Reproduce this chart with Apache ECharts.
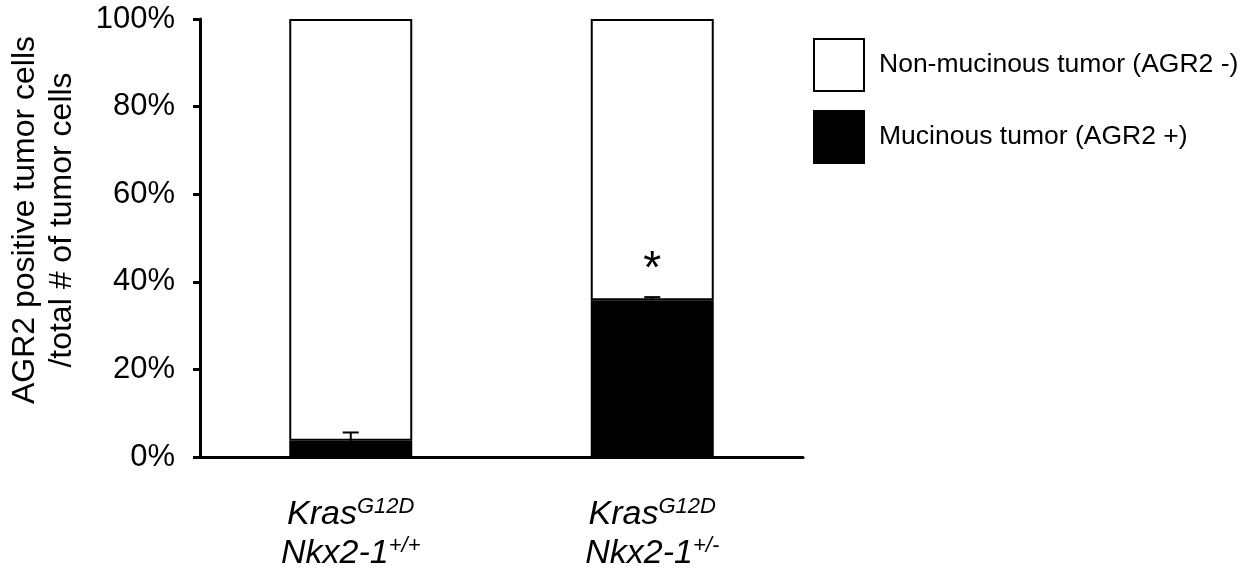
<!DOCTYPE html>
<html>
<head>
<meta charset="utf-8">
<script src="https://cdn.jsdelivr.net/npm/echarts@6/dist/echarts.min.js"></script>
<style>
  html, body { margin: 0; padding: 0; background: #fff; }
  #chart { width: 1258px; height: 574px; }
</style>
</head>
<body>
<div id="chart"></div>
<script>
// genotypes on the x axis
const categories = ['Kras G12D Nkx2-1 +/+', 'Kras G12D Nkx2-1 +/-'];
const krasSup = ['G12D', 'G12D'];
const nkxSup = ['+/+', '+/-'];

// % of tumor cells
const mucinous = [3.7, 35.8];
const mucinousErr = [1.9, 0.7];
const nonMucinous = mucinous.map(v => 100 - v);
const signif = ['', '*'];

const yTicks = [0, 20, 40, 60, 80, 100];

const FONT = 'Liberation Sans, Arial, Helvetica, sans-serif';

const chart = echarts.init(document.getElementById('chart'));

/**
 * 误差线 + 显著性星号
 */
const renderErr = (params, api) => {
    const i = api.value(0);
    const base = api.coord([i, api.value(1)]);
    const top = api.coord([i, api.value(1) + api.value(2)]);
    const cap = 8;
    const children = [
        { type: 'line', shape: { x1: base[0], y1: base[1], x2: top[0], y2: top[1] },
          style: { stroke: '#000', lineWidth: 2 } },
        { type: 'line', shape: { x1: top[0] - cap, y1: top[1], x2: top[0] + cap, y2: top[1] },
          style: { stroke: '#000', lineWidth: 2 } }
    ];
    if (signif[i]) {
        children.push({ type: 'text', x: top[0], y: top[1] - 4,
            style: { text: signif[i], fill: '#000', font: '46px ' + FONT, align: 'center', verticalAlign: 'bottom' } });
    }
    return { type: 'group', children };
};

const option = {
    animation: false,
    backgroundColor: '#fff',
    textStyle: { fontFamily: FONT, color: '#000' },
    grid: { left: 200, right: 455, top: 19, bottom: 117 },
    legend: {
        orient: 'vertical',
        left: 813,
        top: 38,
        padding: 0,
        itemWidth: 50,
        itemHeight: 52,
        itemGap: 18,
        icon: 'rect',
        data: ['Non-mucinous tumor (AGR2 -)', 'Mucinous tumor (AGR2 +)'],
        textStyle: { fontFamily: FONT, fontSize: 26.5, color: '#000', padding: [0, 0, 0, 10] }
    },
    xAxis: {
        type: 'category',
        data: categories,
        axisLine: { lineStyle: { color: '#000', width: 3 } },
        axisTick: { length: 7, lineStyle: { color: '#000', width: 3 } },
        axisLabel: {
            margin: 38,
            formatter: (v, idx) => '{it|Kras}{sup|' + krasSup[idx] + '}\n{it|Nkx2-1}{sup|' + nkxSup[idx] + '}',
            rich: {
                it: { fontFamily: FONT, fontStyle: 'italic', fontSize: 34, lineHeight: 39, color: '#000' },
                sup: { fontFamily: FONT, fontStyle: 'italic', fontSize: 22, lineHeight: 39, color: '#000', padding: [0, 0, 15, 0] }
            }
        }
    },
    yAxis: {
        type: 'value',
        min: yTicks[0],
        max: yTicks[yTicks.length - 1],
        interval: 20,
        name: 'AGR2 positive tumor cells\n/total # of tumor cells',
        nameLocation: 'middle',
        nameGap: 119,
        nameTextStyle: { fontFamily: FONT, fontSize: 32, lineHeight: 37, color: '#000', padding: [0, 0, 0, 36] },
        axisLine: { show: true, lineStyle: { color: '#000', width: 3 } },
        axisTick: { show: true, length: 7, lineStyle: { color: '#000', width: 3 } },
        axisLabel: { margin: 25, fontFamily: FONT, fontSize: 31, color: '#000', formatter: '{value}%', padding: [6, 0, 0, 0] },
        splitLine: { show: false }
    },
    series: [
        {
            name: 'Mucinous tumor (AGR2 +)',
            type: 'bar',
            stack: 'total',
            barWidth: 123,
            data: mucinous,
            itemStyle: { color: '#000', borderColor: '#000', borderWidth: 2 }
        },
        {
            name: 'Non-mucinous tumor (AGR2 -)',
            type: 'bar',
            stack: 'total',
            barWidth: 123,
            data: nonMucinous,
            itemStyle: { color: '#fff', borderColor: '#000', borderWidth: 2 }
        },
        {
            type: 'custom',
            renderItem: renderErr,
            data: mucinous.map((v, i) => [i, v, mucinousErr[i]]),
            z: 10,
            silent: true
        }
    ]
};

chart.setOption(option);
</script>
</body>
</html>
